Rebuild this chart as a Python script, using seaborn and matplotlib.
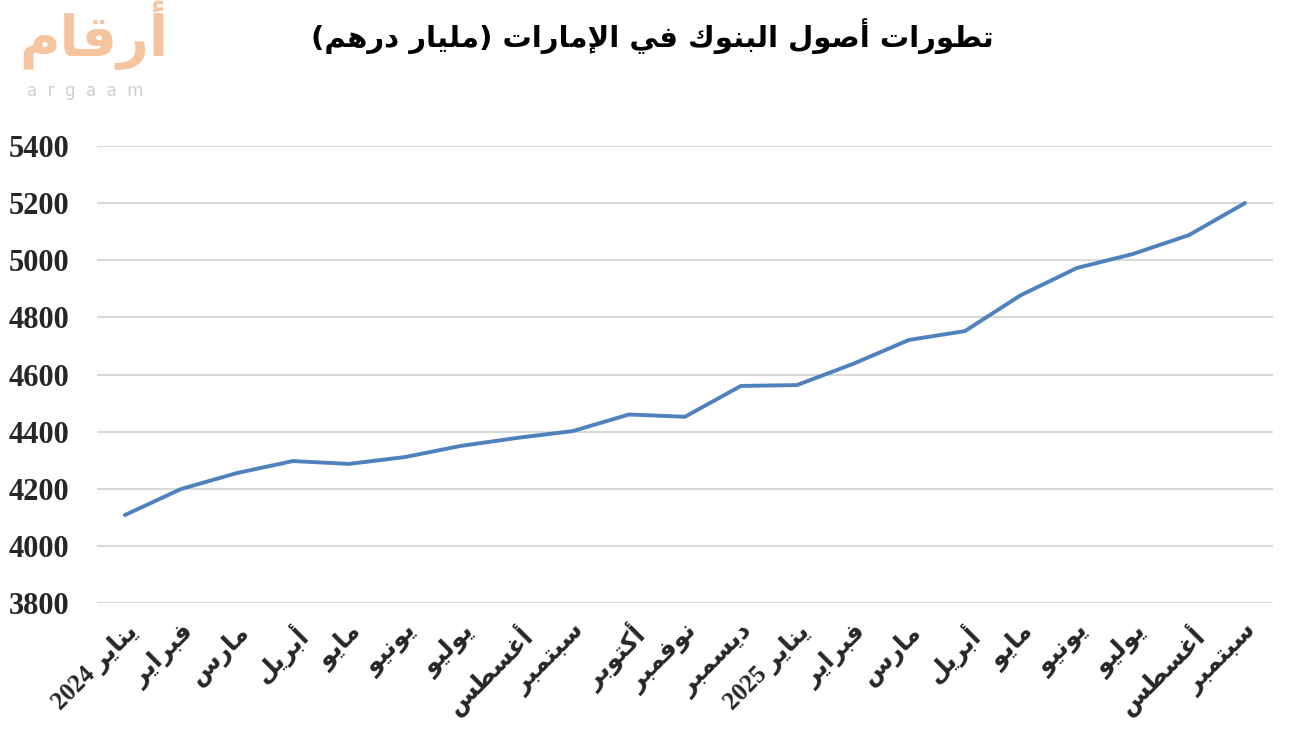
import numpy as np
import matplotlib.pyplot as plt
import seaborn as sns
import pandas as pd

# Monthly UAE bank assets (billion AED), Jan 2024 - Sep 2025
months = ["يناير 2024", "فبراير", "مارس", "أبريل", "مايو", "يونيو", "يوليو",
          "أغسطس", "سبتمبر", "أكتوبر", "نوفمبر", "ديسمبر",
          "يناير 2025", "فبراير", "مارس", "أبريل", "مايو", "يونيو", "يوليو",
          "أغسطس", "سبتمبر"]
assets = [4108, 4199, 4255, 4297, 4287, 4311, 4350, 4378, 4402, 4460, 4452,
          4560, 4563, 4637, 4721, 4752, 4878, 4973, 5022, 5088, 5200]
y_ticks = [3800, 4000, 4200, 4400, 4600, 4800, 5000, 5200, 5400]
title = "تطورات أصول البنوك في الإمارات (مليار درهم)"

# --- minimal Arabic shaping (matplotlib has no shaper / bidi) ---
# isolated, final, initial, medial
FORMS = {
    "ا": (0xFE8D, 0xFE8E), "أ": (0xFE83, 0xFE84), "إ": (0xFE87, 0xFE88),
    "د": (0xFEA9, 0xFEAA), "ر": (0xFEAD, 0xFEAE), "و": (0xFEED, 0xFEEE),
    "ب": (0xFE8F, 0xFE90, 0xFE91, 0xFE92), "ت": (0xFE95, 0xFE96, 0xFE97, 0xFE98),
    "س": (0xFEB1, 0xFEB2, 0xFEB3, 0xFEB4), "ص": (0xFEB9, 0xFEBA, 0xFEBB, 0xFEBC),
    "ط": (0xFEC1, 0xFEC2, 0xFEC3, 0xFEC4), "غ": (0xFECD, 0xFECE, 0xFECF, 0xFED0),
    "ف": (0xFED1, 0xFED2, 0xFED3, 0xFED4), "ق": (0xFED5, 0xFED6, 0xFED7, 0xFED8),
    "ك": (0xFED9, 0xFEDA, 0xFEDB, 0xFEDC), "ل": (0xFEDD, 0xFEDE, 0xFEDF, 0xFEE0),
    "م": (0xFEE1, 0xFEE2, 0xFEE3, 0xFEE4), "ن": (0xFEE5, 0xFEE6, 0xFEE7, 0xFEE8),
    "ه": (0xFEE9, 0xFEEA, 0xFEEB, 0xFEEC), "ي": (0xFEF1, 0xFEF2, 0xFEF3, 0xFEF4),
}
LAM_ALEF = {"ا": (0xFEFB, 0xFEFC), "أ": (0xFEF7, 0xFEF8), "إ": (0xFEF9, 0xFEFA)}
MIRROR = {"(": ")", ")": "("}


def shape(text):
    # merge lam-alef into one unit
    units = []
    i = 0
    while i < len(text):
        if text[i] == "ل" and i + 1 < len(text) and text[i + 1] in LAM_ALEF:
            units.append(("LA", text[i + 1]))
            i += 2
        else:
            units.append(("C", text[i]))
            i += 1

    def is_ar(u):
        return u[0] == "LA" or u[1] in FORMS

    def dual(u):
        return u[0] == "C" and u[1] in FORMS and len(FORMS[u[1]]) == 4

    out = []
    for k, u in enumerate(units):
        prev_j = k > 0 and dual(units[k - 1])
        if u[0] == "LA":
            f = LAM_ALEF[u[1]]
            out.append(chr(f[1] if prev_j else f[0]))
            continue
        c = u[1]
        if c not in FORMS:
            out.append(c)
            continue
        f = FORMS[c]
        next_j = len(f) == 4 and k + 1 < len(units) and is_ar(units[k + 1])
        if prev_j and next_j:
            out.append(chr(f[3]))
        elif prev_j:
            out.append(chr(f[1]))
        elif next_j:
            out.append(chr(f[2]))
        else:
            out.append(chr(f[0]))
    # visual order: reverse, keep digit runs LTR, mirror brackets
    s = "".join(out)[::-1]
    res, run = [], ""
    for ch in s:
        if ch.isdigit():
            run += ch
        else:
            if run:
                res.append(run[::-1])
                run = ""
            res.append(MIRROR.get(ch, ch))
    if run:
        res.append(run[::-1])
    return "".join(res)


sns.set_style("white")
plt.rcParams['font.family'] = ['Liberation Serif', 'DejaVu Sans']

df = pd.DataFrame({"idx": np.arange(len(assets)), "assets": assets})

fig = plt.figure(figsize=(12.96, 7.43), dpi=100)
ax = fig.add_axes([0.0748, 0.1884, 0.9074, 0.6151])

sns.lineplot(data=df, x="idx", y="assets", ax=ax, color="#4F81BD",
             linewidth=2.8, solid_capstyle="round")

ax.set_xlim(-0.5, len(assets) - 0.5)
ax.set_ylim(y_ticks[0], y_ticks[-1])
ax.set_yticks(y_ticks)
ax.set_yticklabels([str(v) for v in y_ticks], fontsize=22, fontweight="bold",
                   family=["Liberation Serif"])
ax.yaxis.grid(True, color="#D9D9D9", linewidth=1.5)
ax.set_axisbelow(True)
ax.set_xticks(df["idx"])
ax.set_xticklabels([shape(m) for m in months], rotation=45, ha="right",
                   rotation_mode="anchor", fontsize=18, fontweight="bold",
                   family=["Liberation Serif", "DejaVu Sans"])
ax.tick_params(axis="x", length=0, pad=12)
ax.tick_params(axis="y", length=0, pad=20)
ax.set_xlabel("")
ax.set_ylabel("")
for sp in ax.spines.values():
    sp.set_visible(False)

fig.text(0.503, 0.952, shape(title), ha="center", va="center", fontsize=21,
         fontweight="bold", family=["DejaVu Sans"], color="black")

# argaam logo
fig.text(0.072, 0.925, shape("أرقام"), ha="center", va="baseline", fontsize=40,
         fontweight="bold", family=["DejaVu Sans"], color="#F7C4A0")
fig.text(0.066, 0.878, "a  r  g  a  a  m", ha="center", va="center",
         fontsize=12, family=["DejaVu Sans"], color="#CFCFCF")

fig.savefig("out.png", dpi=100)
